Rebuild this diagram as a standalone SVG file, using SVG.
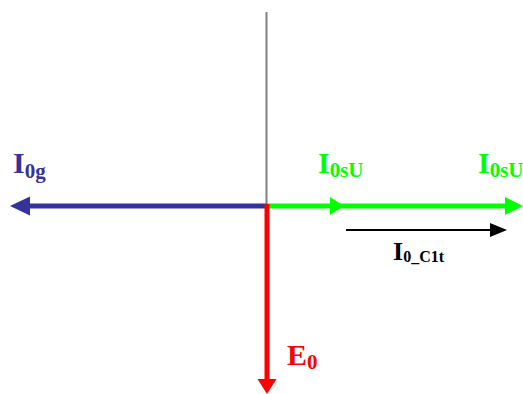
<svg xmlns="http://www.w3.org/2000/svg" width="523" height="394" viewBox="0 0 523 394">
<style>
.t{font-family:"Liberation Serif","Times New Roman",serif;font-weight:bold;font-size:30px}
.s{font-size:21px}
</style>
<rect width="523" height="394" fill="#fff"/>
<g id="connectors">
<line x1="266.5" y1="12" x2="266.5" y2="206" stroke="#808080" stroke-width="2"/>
<line x1="267" y1="206" x2="28" y2="206" stroke="#333399" stroke-width="5"/>
<polygon points="10,206 30,196.5 30,215.5" fill="#333399"/>
<line x1="267" y1="206" x2="506" y2="206" stroke="#00ff00" stroke-width="5"/>
<polygon points="344,206 330,197 330,215" fill="#00ff00"/>
<polygon points="523,206 505,197 505,215" fill="#00ff00"/>
<line x1="267" y1="204" x2="267" y2="380" stroke="#ff0000" stroke-width="5"/>
<polygon points="267,394 257.5,379 276.5,379" fill="#ff0000"/>
<line x1="346" y1="230" x2="492" y2="230" stroke="#000" stroke-width="2"/>
<polygon points="507,230 490,223 490,237" fill="#000"/>
</g>
<g id="I0g"><text class="t" x="13" y="173" fill="#333399">I<tspan class="s" dy="5">0g</tspan></text></g>
<g id="I0sU1"><text class="t" x="318" y="173" fill="#00ff00">I<tspan class="s" dy="4">0sU</tspan></text></g>
<g id="I0sU2"><text class="t" x="478" y="173" fill="#00ff00">I<tspan class="s" dy="4">0sU</tspan></text></g>
<g id="I0C1t"><text class="t" x="393" y="260" fill="#000" style="font-size:26px">I<tspan style="font-size:16px" dy="2">0_C1t</tspan></text></g>
<g id="E0"><text class="t" x="287" y="365" fill="#ff0000">E<tspan class="s" dy="4">0</tspan></text></g>
</svg>
